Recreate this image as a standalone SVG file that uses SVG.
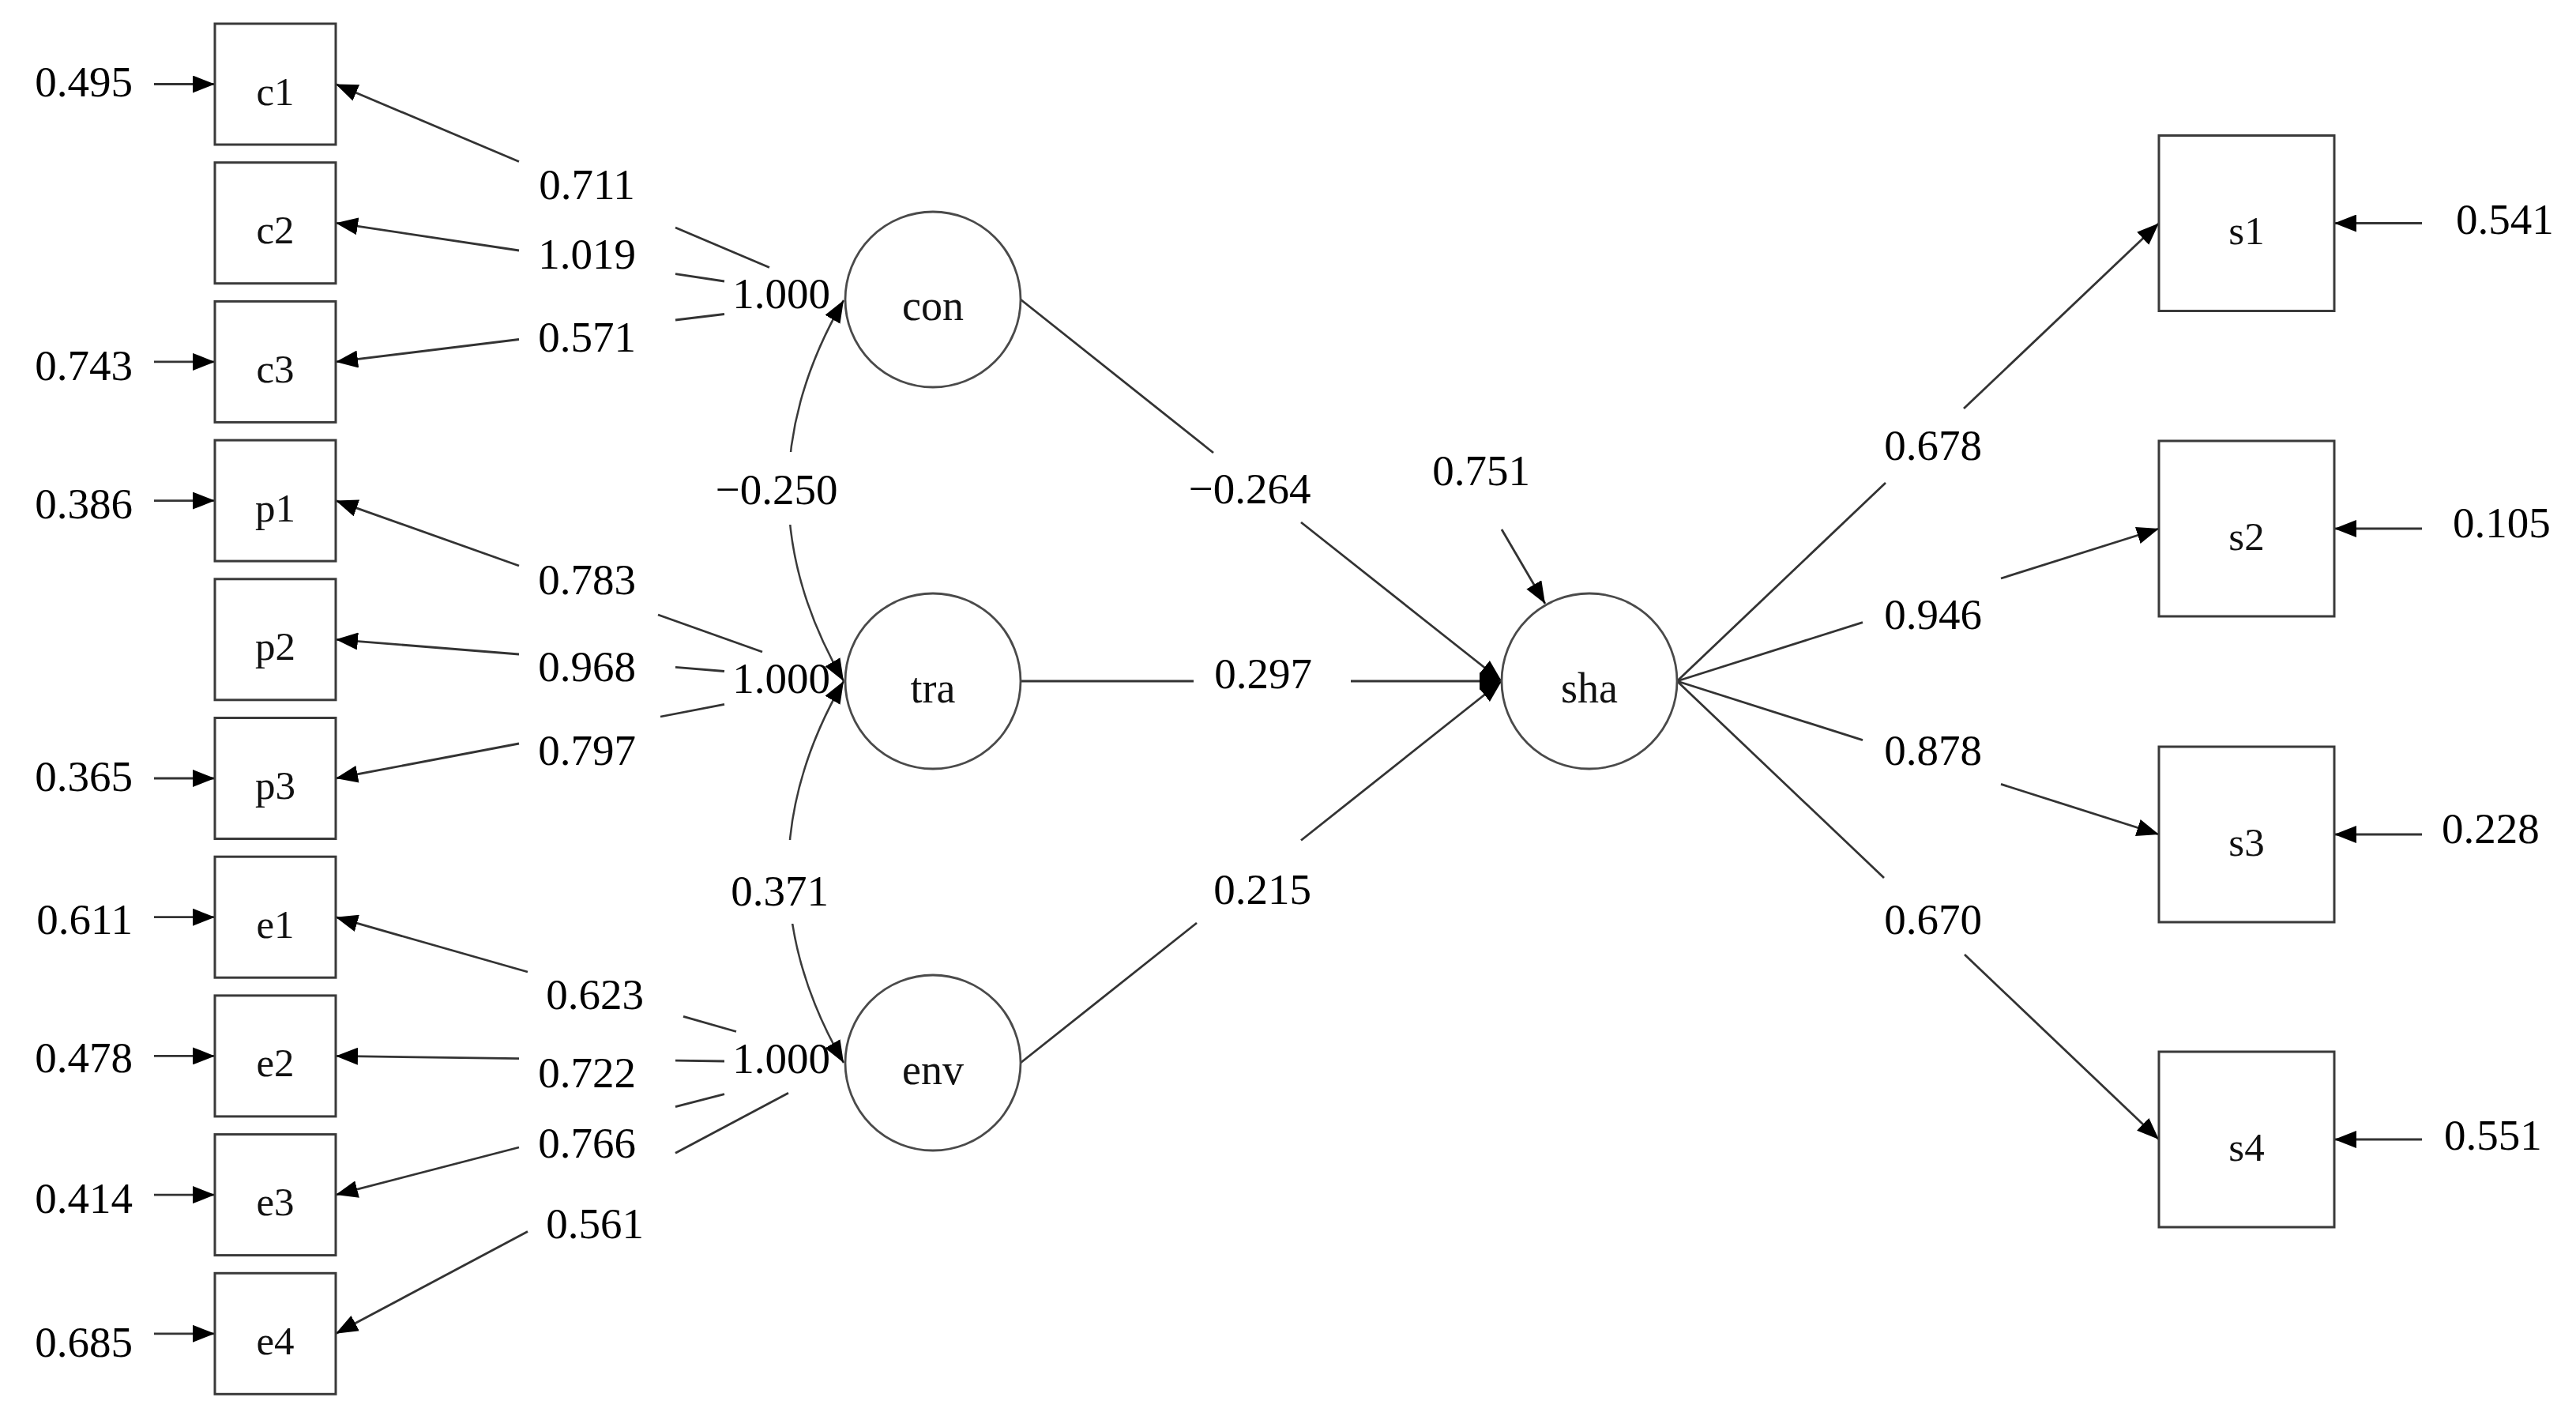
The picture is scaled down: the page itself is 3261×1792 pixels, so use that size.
<svg xmlns="http://www.w3.org/2000/svg" width="3261" height="1792" viewBox="0 0 3261 1792">
<defs>
<style>
.ln{stroke:#333;stroke-width:2.8;fill:none}
.ar{marker-end:url(#ah)}
.cov{stroke:#3a3a3a;stroke-width:2.5;fill:none;marker-start:url(#ah);marker-end:url(#ah)}
.box{fill:#fff;stroke:#3a3a3a;stroke-width:3}
.lat{fill:#fff;stroke:#4a4a4a;stroke-width:2.8}
.num{font-family:"Liberation Serif","Times New Roman",serif;font-size:55px;fill:#000}
.mid{text-anchor:middle}
.end{text-anchor:end}
.lab{font-family:"Liberation Serif","Times New Roman",serif;font-size:51px;fill:#111;text-anchor:middle}
.llab{font-family:"Liberation Serif","Times New Roman",serif;font-size:54px;fill:#111;text-anchor:middle}
</style>
<marker id="ah" markerUnits="userSpaceOnUse" markerWidth="28" markerHeight="22" refX="28" refY="11" orient="auto-start-reverse" viewBox="0 0 28 22">
<path d="M0,0 L28,11 L0,22 z" fill="#000"/>
</marker>
</defs>
<rect width="3261" height="1792" fill="#fff"/>

<g id="connectors">
<path class="cov" d="M1068,380 Q928,621 1068,862"/>
<path class="cov" d="M1068,862 Q928,1103.5 1068,1345"/>
<rect x="900" y="572" width="160" height="92" fill="#fff"/>
<rect x="915" y="1063" width="145" height="106" fill="#fff"/>
<path class="ln ar" d="M657,204.5 L425,106.5"/>
<path class="ln" d="M855,288 L974,338.5"/>
<path class="ln ar" d="M657,317 L425,282.2"/>
<path class="ln" d="M855,346.7 L917,356"/>
<path class="ln ar" d="M657,429.5 L425,457.9"/>
<path class="ln" d="M855,405 L917,397.5"/>
<path class="ln ar" d="M657,716 L425,633.6"/>
<path class="ln" d="M833,778 L965,825"/>
<path class="ln ar" d="M657,828 L425,809.3"/>
<path class="ln" d="M855,844.4 L917,849.5"/>
<path class="ln ar" d="M657,941 L425,985"/>
<path class="ln" d="M836,907 L917,891.3"/>
<path class="ln ar" d="M668,1230 L425,1160.7"/>
<path class="ln" d="M865,1286.4 L932,1305.5"/>
<path class="ln ar" d="M657,1339.6 L425,1336.4"/>
<path class="ln" d="M855,1342.2 L917,1343"/>
<path class="ln ar" d="M657,1452 L425,1512.1"/>
<path class="ln" d="M855,1400.7 L917,1384.6"/>
<path class="ln ar" d="M668,1558.5 L425,1687.8"/>
<path class="ln" d="M855,1459.2 L998,1383.2"/>
<path class="ln ar" d="M195,106.5 L272,106.5"/>
<path class="ln ar" d="M195,457.9 L272,457.9"/>
<path class="ln ar" d="M195,633.6 L272,633.6"/>
<path class="ln ar" d="M195,985 L272,985"/>
<path class="ln ar" d="M195,1160.7 L272,1160.7"/>
<path class="ln ar" d="M195,1336.4 L272,1336.4"/>
<path class="ln ar" d="M195,1512.1 L272,1512.1"/>
<path class="ln ar" d="M195,1687.8 L272,1687.8"/>
<path class="ln" d="M1292,379 L1536,573"/>
<path class="ln ar" d="M1647,661 L1901,862"/>
<path class="ln" d="M1292,862 L1511,862"/>
<path class="ln ar" d="M1710,862 L1901,862"/>
<path class="ln" d="M1292,1345 L1515,1168"/>
<path class="ln ar" d="M1647,1063.5 L1901,862"/>
<path class="ln ar" d="M1901,670 L1956,764"/>
<path class="ln" d="M2123,862 L2387,611"/>
<path class="ln ar" d="M2486,517 L2733,282.5"/>
<path class="ln" d="M2123,862 L2358,787.6"/>
<path class="ln ar" d="M2533,732 L2733,669"/>
<path class="ln" d="M2123,862 L2358,936.7"/>
<path class="ln ar" d="M2533,992.4 L2733,1056"/>
<path class="ln" d="M2123,862 L2385,1111"/>
<path class="ln ar" d="M2487,1208 L2733,1442"/>
<path class="ln ar" d="M3066,282.5 L2955,282.5"/>
<path class="ln ar" d="M3066,669 L2955,669"/>
<path class="ln ar" d="M3066,1056 L2955,1056"/>
<path class="ln ar" d="M3066,1442 L2955,1442"/>
</g>

<g id="labels">
<text class="num end" x="168" y="122">0.495</text>
<text class="num end" x="168" y="481">0.743</text>
<text class="num end" x="168" y="656">0.386</text>
<text class="num end" x="168" y="1001">0.365</text>
<text class="num end" x="168" y="1182">0.611</text>
<text class="num end" x="168" y="1357">0.478</text>
<text class="num end" x="168" y="1535">0.414</text>
<text class="num end" x="168" y="1717">0.685</text>
<text class="num mid" x="743" y="252">0.711</text>
<text class="num mid" x="743" y="340">1.019</text>
<text class="num mid" x="743" y="445">0.571</text>
<text class="num mid" x="743" y="752">0.783</text>
<text class="num mid" x="743" y="862">0.968</text>
<text class="num mid" x="743" y="968">0.797</text>
<text class="num mid" x="753" y="1277">0.623</text>
<text class="num mid" x="743" y="1376">0.722</text>
<text class="num mid" x="743" y="1465">0.766</text>
<text class="num mid" x="753" y="1567">0.561</text>
<text class="num mid" x="989" y="390">1.000</text>
<text class="num mid" x="989" y="877">1.000</text>
<text class="num mid" x="989" y="1358">1.000</text>
<text class="num mid" x="983" y="638">−0.250</text>
<text class="num mid" x="987" y="1146">0.371</text>
<text class="num mid" x="1582" y="637">−0.264</text>
<text class="num mid" x="1599" y="871">0.297</text>
<text class="num mid" x="1598" y="1144">0.215</text>
<text class="num mid" x="1875" y="614">0.751</text>
<text class="num mid" x="2447" y="582">0.678</text>
<text class="num mid" x="2447" y="796">0.946</text>
<text class="num mid" x="2447" y="968">0.878</text>
<text class="num mid" x="2447" y="1182">0.670</text>
<text class="num" x="3109" y="296">0.541</text>
<text class="num" x="3105" y="680">0.105</text>
<text class="num" x="3091" y="1067">0.228</text>
<text class="num" x="3094" y="1455">0.551</text>
</g>

<g id="c1"><rect class="box" x="272" y="30" width="153" height="153"/><text class="lab" x="348.5" y="132.5">c1</text></g>
<g id="c2"><rect class="box" x="272" y="205.7" width="153" height="153"/><text class="lab" x="348.5" y="308">c2</text></g>
<g id="c3"><rect class="box" x="272" y="381.4" width="153" height="153"/><text class="lab" x="348.5" y="484">c3</text></g>
<g id="p1"><rect class="box" x="272" y="557.1" width="153" height="153"/><text class="lab" x="348.5" y="660">p1</text></g>
<g id="p2"><rect class="box" x="272" y="732.8" width="153" height="153"/><text class="lab" x="348.5" y="835">p2</text></g>
<g id="p3"><rect class="box" x="272" y="908.5" width="153" height="153"/><text class="lab" x="348.5" y="1011">p3</text></g>
<g id="e1"><rect class="box" x="272" y="1084.2" width="153" height="153"/><text class="lab" x="348.5" y="1187">e1</text></g>
<g id="e2"><rect class="box" x="272" y="1259.9" width="153" height="153"/><text class="lab" x="348.5" y="1362">e2</text></g>
<g id="e3"><rect class="box" x="272" y="1435.6" width="153" height="153"/><text class="lab" x="348.5" y="1538">e3</text></g>
<g id="e4"><rect class="box" x="272" y="1611.3" width="153" height="153"/><text class="lab" x="348.5" y="1714">e4</text></g>

<g id="con"><circle class="lat" cx="1181" cy="379" r="111"/><text class="llab" x="1181" y="405">con</text></g>
<g id="tra"><circle class="lat" cx="1181" cy="862" r="111"/><text class="llab" x="1181" y="889">tra</text></g>
<g id="env"><circle class="lat" cx="1181" cy="1345" r="111"/><text class="llab" x="1181" y="1372">env</text></g>
<g id="sha"><circle class="lat" cx="2012" cy="862" r="111"/><text class="llab" x="2012" y="889">sha</text></g>

<g id="s1"><rect class="box" x="2733" y="171.5" width="222" height="222"/><text class="lab" x="2844" y="309">s1</text></g>
<g id="s2"><rect class="box" x="2733" y="558" width="222" height="222"/><text class="lab" x="2844" y="696">s2</text></g>
<g id="s3"><rect class="box" x="2733" y="945" width="222" height="222"/><text class="lab" x="2844" y="1083">s3</text></g>
<g id="s4"><rect class="box" x="2733" y="1331" width="222" height="222"/><text class="lab" x="2844" y="1469">s4</text></g>
</svg>
